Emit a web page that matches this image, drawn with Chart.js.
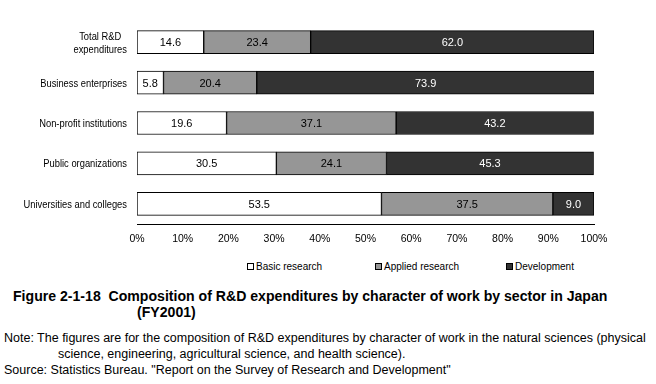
<!DOCTYPE html>
<html>
<head>
<meta charset="utf-8">
<script src="https://cdn.jsdelivr.net/npm/chart.js@4.4.0/dist/chart.umd.min.js"></script>
<style>
  body { margin: 0; background: #fff; font-family: "Liberation Sans", Arial, sans-serif; }
  #wrap { position: relative; width: 656px; height: 384px; overflow: hidden; }
  #chart { position: absolute; left: 0; top: 0; }
  .leg { position: absolute; top: 260px; font-size: 10px; color: #000; white-space: nowrap; line-height: 13px; }
  .leg i { display: inline-block; width: 5px; height: 5px; border: 1px solid #000; margin-right: 2px; vertical-align: 0px; }
  .title { position: absolute; left: 13px; top: 288px; font-weight: bold; font-size: 14.1px; line-height: 16px; color: #000; white-space: nowrap; }
  .note { position: absolute; left: 4px; top: 330px; font-size: 12.5px; line-height: 16px; color: #000; white-space: nowrap; }
  .ind { padding-left: 54px; }
</style>
</head>
<body>
<div id="wrap">
  <canvas id="chart" width="656" height="250"></canvas>
  <div class="leg" style="left:247px"><i style="background:#fff"></i>Basic research</div>
  <div class="leg" style="left:375px"><i style="background:#969696"></i>Applied research</div>
  <div class="leg" style="left:506px"><i style="background:#333"></i>Development</div>
  <div class="title">Figure 2-1-18&nbsp; Composition of R&amp;D expenditures by character of work by sector in Japan<br><span style="padding-left:124px">(FY2001)</span></div>
  <div class="note">Note: The figures are for the composition of R&amp;D expenditures by character of work in the natural sciences (physical<br><span class="ind">science, engineering, agricultural science, and health science).</span><br>Source: Statistics Bureau. "Report on the Survey of Research and Development"</div>
</div>
<script>
var sectors = [['Total R&D', 'expenditures'], 'Business enterprises', 'Non-profit institutions', 'Public organizations', 'Universities and colleges'];
var basicResearch = [14.6, 5.8, 19.6, 30.5, 53.5];
var appliedResearch = [23.4, 20.4, 37.1, 24.1, 37.5];
var development = [62.0, 73.9, 43.2, 45.3, 9.0];
var xTicks = [0, 10, 20, 30, 40, 50, 60, 70, 80, 90, 100];

var FONT = '"Liberation Sans", Arial, sans-serif';

// value labels inside each segment
var valueLabels = {
    id: 'valueLabels',
    afterDatasetsDraw: function(chart) {
        var ctx = chart.ctx;
        ctx.save();
        ctx.font = '11px ' + FONT;
        ctx.textAlign = 'center';
        ctx.textBaseline = 'middle';
        chart.data.datasets.forEach(function(ds, i) {
            var meta = chart.getDatasetMeta(i);
            meta.data.forEach(function(bar, j) {
                var cx = (bar.x + bar.base) / 2;
                ctx.fillStyle = ds.labelColor;
                ctx.fillText(ds.data[j].toFixed(1), cx, bar.y + 1);
            });
        });
        ctx.restore();
    }
};

// category labels, a bit condensed, multi-line ones centred on each other
var catLabels = {
    id: 'catLabels',
    afterDraw: function(chart) {
        var ctx = chart.ctx, y = chart.scales.y;
        var sx = 0.85, right = 127;
        ctx.save();
        ctx.font = '11px ' + FONT;
        ctx.fillStyle = '#000';
        ctx.textBaseline = 'middle';
        ctx.textAlign = 'center';
        sectors.forEach(function(lab, i) {
            var cy = y.getPixelForValue(i) + 1;
            var lines = Array.isArray(lab) ? lab : [lab];
            var w = Math.max.apply(null, lines.map(function(l) { return ctx.measureText(l).width; })) * sx;
            var cx = right - w / 2;
            lines.forEach(function(l, k) {
                var ly = cy + (k - (lines.length - 1) / 2) * 13;
                ctx.save();
                ctx.translate(cx, ly);
                ctx.scale(sx, 1);
                ctx.fillText(l, 0, 0);
                ctx.restore();
            });
        });
        ctx.restore();
    }
};

var ctx = document.getElementById('chart').getContext('2d');
var chart = new Chart(ctx, {
    type: 'bar',
    data: {
        labels: sectors,
        datasets: [{
            label: 'Basic research',
            data: basicResearch,
            backgroundColor: '#ffffff',
            labelColor: '#000',
        }, {
            label: 'Applied research',
            data: appliedResearch,
            backgroundColor: '#969696',
            labelColor: '#000',
        }, {
            label: 'Development',
            data: development,
            backgroundColor: '#333333',
            labelColor: '#fff',
        }]
    },
    options: {
        indexAxis: 'y',
        responsive: false,
        animation: false,
        datasets: {
            bar: { barThickness: 23, borderColor: '#000', borderWidth: 1, borderSkipped: false }
        },
        layout: { padding: { left: 0, right: 62, top: 22, bottom: 0 } },
        plugins: { legend: { display: false }, tooltip: { enabled: false } },
        scales: {
            x: {
                stacked: true,
                min: 0,
                max: 100,
                grid: { display: false, drawTicks: false },
                border: { display: true, color: '#000', width: 1 },
                afterBuildTicks: function(s) { s.ticks = xTicks.map(function(v) { return { value: v }; }); },
                afterFit: function(s) { s.height = 26; },
                ticks: {
                    padding: 9,
                    maxRotation: 0,
                    autoSkip: false,
                    color: '#000',
                    font: { family: FONT, size: 10.5 },
                    callback: function(v) { return v + '%'; }
                }
            },
            y: {
                stacked: true,
                grid: { display: false, drawTicks: false },
                border: { display: false },
                afterFit: function(s) { s.width = 137; },
                ticks: { display: false }
            }
        }
    },
    plugins: [valueLabels, catLabels]
});
</script>
</body>
</html>
